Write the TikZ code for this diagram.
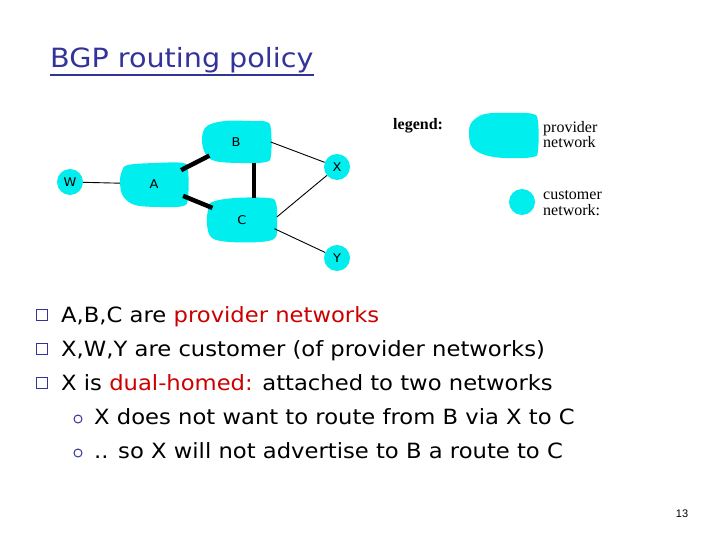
\documentclass[tikz,border=0pt]{standalone}
\usepackage{fontspec}
\usetikzlibrary{shapes.geometric}
\newfontfamily\comic[FakeStretch=1.08]{DejaVu Sans}
\newfontfamily\legendfont{Liberation Serif}
\newfontfamily\pagefont{Liberation Sans}
\definecolor{cy}{RGB}{0,238,238}
\definecolor{navy}{RGB}{51,51,153}
\definecolor{redt}{RGB}{204,0,0}
\tikzset{
  hub/.style={ellipse, inner sep=0pt, font=\comic\fontsize{12}{12}\selectfont},
  cust/.style={circle, fill=cy, minimum size=26pt, inner sep=0pt, font=\comic\fontsize{12}{12}\selectfont},
  blob/.style={fill=cy},
  thick link/.style={line width=4.5pt},
  thin link/.style={line width=0.9pt},
  body/.style={anchor=base west, inner sep=0pt, font=\comic\fontsize{21}{25}\selectfont},
  sqbullet/.style={rectangle, draw=navy, fill=white, line width=1.2pt, minimum size=11pt, inner sep=0pt},
  cbullet/.style={circle, draw=navy, fill=white, line width=1pt, minimum size=8pt, inner sep=0pt},
  legtext/.style={anchor=base west, inner sep=0pt, font=\legendfont\fontsize{16}{16}\selectfont},
}
\begin{document}
\begin{tikzpicture}[x=1pt,y=-1pt]
\fill[white] (0,0) rectangle (720,540);
\useasboundingbox (0,0) rectangle (720,540);

% title
\node[anchor=base west, inner sep=0pt, text=navy, font=\comic\fontsize{26.5}{30}\selectfont] (title) at (50,68) {BGP routing policy};
\draw[navy, line width=1.8pt] ([yshift=-7pt]title.base west) -- ([yshift=-7pt]title.base east);

% provider blobs
\path[blob] plot[smooth cycle, tension=0.6] coordinates {(128,165) (155,163) (183,163) (188,170) (188,198) (183,206) (160,207) (135,205) (123,196) (120,182) (122,171)};
\path[blob] plot[smooth cycle, tension=0.6] coordinates {(207,126) (225,121) (250,121) (267,122) (271,130) (271,155) (266,162) (240,163) (215,161) (205,153) (202,138)};
\path[blob] plot[smooth cycle, tension=0.6] coordinates {(212,202) (235,198) (268,198) (276,203) (277,225) (275,238) (260,242) (230,242) (212,238) (207,225) (208,210)};

\node[hub, minimum width=68pt, minimum height=45pt] (A) at (154,184) {A};
\node[hub, minimum width=69pt, minimum height=42pt] (B) at (236,142) {B};
\node[hub, minimum width=70pt, minimum height=44pt] (C) at (242,220) {C};

% customer networks
\node[cust] (W) at (70,182) {W};
\node[cust] (X) at (337,167) {X};
\node[cust] (Y) at (337,258) {Y};

% links
\draw[thin link] (W) -- (A);
\draw[thick link] (A) -- (B);
\draw[thick link] (A) -- (C);
\draw[thick link] ([xshift=18pt]B.south) -- ([xshift=12pt]C.north);
\draw[thin link] (B.east) -- (X);
\draw[thin link] (C.5) -- (X);
\draw[thin link] (C.-15) -- (Y);

% legend
\node[legtext, font=\legendfont\bfseries\fontsize{16}{16}\selectfont] (leg) at (393,130) {legend:};
\path[blob] plot[smooth cycle, tension=0.6] coordinates {(472,122) (485,114) (510,113) (533,114) (538,122) (538,150) (533,157) (505,158) (485,155) (472,147) (469,133)};
\node[inner sep=0pt, minimum width=69pt, minimum height=45pt] (legprov) at (503,135) {};
\node[legtext] (lp1) at (543,133) {provider};
\node[legtext] (lp2) at (543,148) {network};
\node[cust] (legcust) at (522,202) {};
\node[legtext] (lc1) at (543,200) {customer};
\node[legtext] (lc2) at (543,215) {network:};

% bullets
\node[sqbullet] (s1) at (42,315) {};
\node[sqbullet] (s2) at (42,349) {};
\node[sqbullet] (s3) at (42,383) {};
\node[cbullet] (c1) at (78,419) {};
\node[cbullet] (c2) at (78,453) {};

\node[body] (t1) at (61,322) {A,B,C are \textcolor{redt}{provider networks}};
\node[body] (t2) at (61,356) {X,W,Y are customer (of provider networks)};
\node[body] (t3) at (61,390) {X is \textcolor{redt}{dual-homed:} attached to two networks};
\node[body] (t4) at (94,424) {X does not want to route from B via X to C};
\node[body] (t5) at (94,458) {.. so X will not advertise to B a route to C};

% page number
\node[inner sep=0pt, font=\pagefont\fontsize{11}{11}\selectfont] (pg) at (682,514) {13};
\end{tikzpicture}
\end{document}
